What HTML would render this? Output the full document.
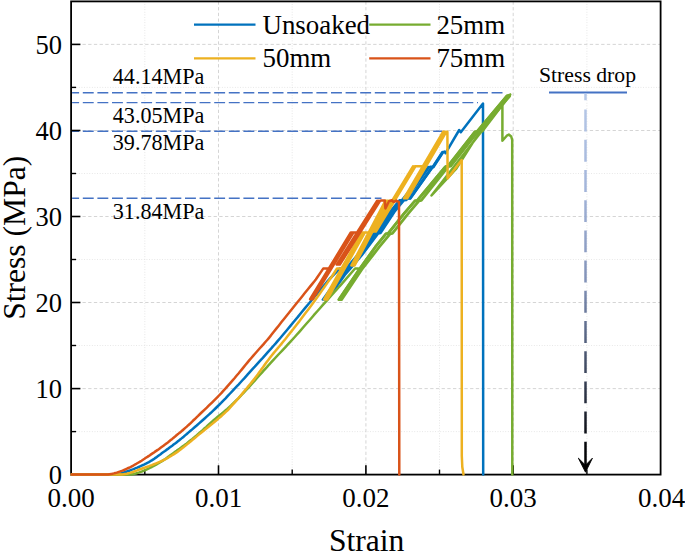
<!DOCTYPE html>
<html><head><meta charset="utf-8"><title>Stress-Strain</title>
<style>html,body{margin:0;padding:0;background:#fff}svg{display:block}</style></head>
<body><svg width="685" height="552" viewBox="0 0 685 552">
<rect x="0" y="0" width="685" height="552" fill="#fff"/>
<line x1="71.1" x2="660.6" y1="431.6" y2="431.6" stroke="#dedede" stroke-width="0.8" stroke-dasharray="0.9 1.7"/>
<line x1="71.1" x2="660.6" y1="345.5" y2="345.5" stroke="#dedede" stroke-width="0.8" stroke-dasharray="0.9 1.7"/>
<line x1="71.1" x2="660.6" y1="259.5" y2="259.5" stroke="#dedede" stroke-width="0.8" stroke-dasharray="0.9 1.7"/>
<line x1="71.1" x2="660.6" y1="173.5" y2="173.5" stroke="#dedede" stroke-width="0.8" stroke-dasharray="0.9 1.7"/>
<line x1="71.1" x2="660.6" y1="87.4" y2="87.4" stroke="#dedede" stroke-width="0.8" stroke-dasharray="0.9 1.7"/>
<line x1="144.8" x2="144.8" y1="1.4" y2="474.6" stroke="#dedede" stroke-width="0.8" stroke-dasharray="0.9 1.7"/>
<line x1="292.2" x2="292.2" y1="1.4" y2="474.6" stroke="#dedede" stroke-width="0.8" stroke-dasharray="0.9 1.7"/>
<line x1="439.5" x2="439.5" y1="1.4" y2="474.6" stroke="#dedede" stroke-width="0.8" stroke-dasharray="0.9 1.7"/>
<line x1="586.9" x2="586.9" y1="1.4" y2="474.6" stroke="#dedede" stroke-width="0.8" stroke-dasharray="0.9 1.7"/>
<line x1="71.1" x2="660.6" y1="388.6" y2="388.6" stroke="#cacaca" stroke-width="0.8" stroke-dasharray="3.3 2.4"/>
<line x1="71.1" x2="660.6" y1="302.5" y2="302.5" stroke="#cacaca" stroke-width="0.8" stroke-dasharray="3.3 2.4"/>
<line x1="71.1" x2="660.6" y1="216.5" y2="216.5" stroke="#cacaca" stroke-width="0.8" stroke-dasharray="3.3 2.4"/>
<line x1="71.1" x2="660.6" y1="130.5" y2="130.5" stroke="#cacaca" stroke-width="0.8" stroke-dasharray="3.3 2.4"/>
<line x1="71.1" x2="660.6" y1="44.4" y2="44.4" stroke="#cacaca" stroke-width="0.8" stroke-dasharray="3.3 2.4"/>
<line x1="218.5" x2="218.5" y1="1.4" y2="474.6" stroke="#cacaca" stroke-width="0.8" stroke-dasharray="3.3 2.4"/>
<line x1="365.9" x2="365.9" y1="1.4" y2="474.6" stroke="#cacaca" stroke-width="0.8" stroke-dasharray="3.3 2.4"/>
<line x1="513.2" x2="513.2" y1="1.4" y2="474.6" stroke="#cacaca" stroke-width="0.8" stroke-dasharray="3.3 2.4"/>
<line x1="72.1" x2="504.5" y1="92.8" y2="92.8" stroke="#4472C4" stroke-width="1.45" stroke-dasharray="10.9 3.7" stroke-dashoffset="3.9"/>
<line x1="72.1" x2="478.0" y1="102.6" y2="102.6" stroke="#4472C4" stroke-width="1.45" stroke-dasharray="10.9 3.7" stroke-dashoffset="3.9"/>
<line x1="72.1" x2="442.0" y1="131.3" y2="131.3" stroke="#4472C4" stroke-width="1.45" stroke-dasharray="10.9 3.7" stroke-dashoffset="3.9"/>
<line x1="72.1" x2="381.5" y1="198.3" y2="198.3" stroke="#4472C4" stroke-width="1.45" stroke-dasharray="10.9 3.7" stroke-dashoffset="3.9"/>
<rect x="71.1" y="1.4" width="589.5" height="473.2" fill="none" stroke="#000" stroke-width="1.8"/>
<line x1="71.1" x2="80.4" y1="474.6" y2="474.6" stroke="#000" stroke-width="1.6"/>
<line x1="71.1" x2="80.4" y1="388.6" y2="388.6" stroke="#000" stroke-width="1.6"/>
<line x1="71.1" x2="80.4" y1="302.5" y2="302.5" stroke="#000" stroke-width="1.6"/>
<line x1="71.1" x2="80.4" y1="216.5" y2="216.5" stroke="#000" stroke-width="1.6"/>
<line x1="71.1" x2="80.4" y1="130.5" y2="130.5" stroke="#000" stroke-width="1.6"/>
<line x1="71.1" x2="80.4" y1="44.4" y2="44.4" stroke="#000" stroke-width="1.6"/>
<line x1="71.1" x2="76.1" y1="431.6" y2="431.6" stroke="#000" stroke-width="1.4"/>
<line x1="71.1" x2="76.1" y1="345.5" y2="345.5" stroke="#000" stroke-width="1.4"/>
<line x1="71.1" x2="76.1" y1="259.5" y2="259.5" stroke="#000" stroke-width="1.4"/>
<line x1="71.1" x2="76.1" y1="173.5" y2="173.5" stroke="#000" stroke-width="1.4"/>
<line x1="71.1" x2="76.1" y1="87.4" y2="87.4" stroke="#000" stroke-width="1.4"/>
<line x1="218.5" x2="218.5" y1="474.6" y2="465.3" stroke="#000" stroke-width="1.6"/>
<line x1="365.9" x2="365.9" y1="474.6" y2="465.3" stroke="#000" stroke-width="1.6"/>
<line x1="513.2" x2="513.2" y1="474.6" y2="465.3" stroke="#000" stroke-width="1.6"/>
<line x1="144.8" x2="144.8" y1="474.6" y2="469.6" stroke="#000" stroke-width="1.4"/>
<line x1="292.2" x2="292.2" y1="474.6" y2="469.6" stroke="#000" stroke-width="1.4"/>
<line x1="439.5" x2="439.5" y1="474.6" y2="469.6" stroke="#000" stroke-width="1.4"/>
<line x1="586.9" x2="586.9" y1="474.6" y2="469.6" stroke="#000" stroke-width="1.4"/>
<path d="M428.5 167.2 L406.4 198.3 L410.2 198.3 L432.3 167.2" fill="none" stroke="#0072BD" stroke-width="2.90" stroke-linejoin="round" stroke-linecap="round" />
<path d="M430.4 167.2 L433.2 166.8 L442.6 152.4" fill="none" stroke="#0072BD" stroke-width="3.20" stroke-linejoin="round" stroke-linecap="round" />
<path d="M71.6 474.5 L72.9 474.5 L75.6 474.5 L78.9 474.5 L82.4 474.5 L86.0 474.5 L89.4 474.5 L92.5 474.5 L95.0 474.5 L96.9 474.5 L98.4 474.5 L99.7 474.5 L100.8 474.5 L101.7 474.5 L102.7 474.5 L103.8 474.5 L105.0 474.5 L106.4 474.5 L107.8 474.5 L109.3 474.5 L110.7 474.5 L112.2 474.5 L113.7 474.5 L115.2 474.5 L116.7 474.5 L118.2 474.2 L119.6 473.8 L121.1 473.4 L122.6 473.0 L124.0 472.5 L125.5 472.0 L126.9 471.5 L128.4 471.0 L129.9 470.5 L131.3 469.9 L132.8 469.4 L134.2 468.8 L135.7 468.2 L137.2 467.6 L138.6 467.0 L140.1 466.3 L141.6 465.6 L143.0 465.0 L144.5 464.3 L145.9 463.6 L147.4 462.8 L148.9 462.1 L150.3 461.2 L151.8 460.4 L153.3 459.4 L154.7 458.4 L156.2 457.4 L157.7 456.3 L159.1 455.3 L160.6 454.2 L162.0 453.1 L163.5 452.0 L165.0 451.0 L166.4 449.9 L167.9 448.9 L169.3 447.8 L170.7 446.8 L172.2 445.7 L173.6 444.6 L175.1 443.5 L176.5 442.4 L177.9 441.3 L179.3 440.2 L180.7 439.1 L182.1 437.9 L183.6 436.7 L185.1 435.4 L186.8 434.0 L188.6 432.4 L190.5 430.8 L192.5 429.1 L194.6 427.3 L196.7 425.5 L198.8 423.6 L200.9 421.8 L202.9 420.0 L204.9 418.2 L206.9 416.4 L208.9 414.6 L210.9 412.8 L212.9 410.9 L214.9 409.0 L216.9 407.0 L219.0 405.0 L221.1 402.9 L223.3 400.6 L225.6 398.3 L227.8 395.9 L230.1 393.5 L232.3 391.2 L234.4 388.9 L236.5 386.7 L238.5 384.6 L240.4 382.5 L242.2 380.5 L244.0 378.6 L245.8 376.6 L247.5 374.7 L249.3 372.7 L251.1 370.7 L252.9 368.7 L254.8 366.7 L256.6 364.7 L258.4 362.7 L260.2 360.7 L262.1 358.7 L263.9 356.6 L265.7 354.6 L267.4 352.7 L269.0 350.9 L270.6 349.2 L272.1 347.4 L273.8 345.5 L275.7 343.4 L277.8 340.9 L280.3 338.0 L283.2 334.5 L286.6 330.5 L290.2 326.1 L294.0 321.5 L297.9 316.9 L301.6 312.3 L305.2 307.9 L308.5 304.0 L311.6 300.3 L314.7 296.5 L317.8 292.9 L320.8 289.4 L323.5 286.1 L325.9 283.3 L327.9 280.9 L329.5 279.0 L339.8 268.5 L345.0 268.5 L346.0 268.5 L340.3 275.0 L322.8 299.6 L327.3 299.6 L344.8 275.0 L350.5 268.5 L361.8 255.2 L378.1 233.5 L380.5 233.0 L394.5 211.7 L404.0 200.3 L406.5 200.0 L404.2 200.0 L401.7 200.3 L392.2 211.7 L378.2 233.0 L375.8 233.5 L359.5 255.2 L348.2 268.5 L342.5 275.0 L325.0 299.6 L322.8 299.6 L340.3 275.0 L346.0 268.5 L357.3 255.2 L373.6 233.5 L376.0 233.0 L390.0 211.7 L399.5 200.3 L402.0 200.0 L428.5 167.2 L428.5 167.2 L406.4 198.3 L410.2 198.3 L432.3 167.2 L433.2 166.8 L442.6 152.4 L444.5 151.6 L445.6 153.2 L459.2 130.0 L460.8 132.3 L483.0 103.5 L483.2 474.5" fill="none" stroke="#0072BD" stroke-width="2.50" stroke-linejoin="round" stroke-linecap="round" />
<path d="M506.9 96.0 L477.2 131.4 L474.9 131.8 L447.9 166.2 L445.6 166.6 L444.0 168.3 L417.3 200.4 L415.0 200.8 L404.2 213.3 L388.2 233.4 L385.9 233.8 L375.5 246.7 L359.2 269.5 L338.9 299.6 L341.5 299.6 L361.8 269.5 L379.5 246.7 L390.1 233.8 L392.4 233.4 L408.4 213.3 L419.0 200.8 L421.3 200.4 L446.8 168.3 L448.4 166.6 L450.7 166.2 L477.7 131.8 L480.0 131.4 L509.7 96.0 L509.5 95.4 L506.9 96.0" fill="none" stroke="#77AC30" stroke-width="2.80" stroke-linejoin="round" stroke-linecap="round" />
<path d="M71.6 474.5 L73.3 474.5 L76.5 474.5 L80.4 474.5 L84.6 474.5 L88.9 474.5 L93.1 474.5 L96.8 474.5 L100.0 474.5 L102.6 474.5 L104.8 474.5 L106.7 474.5 L108.5 474.5 L110.1 474.5 L111.7 474.5 L113.3 474.5 L115.0 474.5 L116.8 474.5 L118.5 474.5 L120.2 474.5 L121.9 474.5 L123.6 474.5 L125.2 474.5 L126.8 474.5 L128.4 474.5 L129.9 474.5 L131.4 474.5 L132.9 474.2 L134.4 473.8 L135.8 473.5 L137.2 473.0 L138.6 472.6 L140.1 472.1 L141.6 471.6 L143.0 471.0 L144.5 470.4 L145.9 469.8 L147.4 469.1 L148.9 468.4 L150.3 467.7 L151.8 467.0 L153.3 466.2 L154.7 465.4 L156.2 464.6 L157.7 463.7 L159.1 462.9 L160.6 462.0 L162.0 461.1 L163.5 460.1 L165.0 459.2 L166.4 458.2 L167.9 457.1 L169.3 456.1 L170.7 455.0 L172.2 453.9 L173.6 452.9 L175.1 451.8 L176.6 450.8 L178.0 449.7 L179.5 448.7 L180.9 447.7 L182.4 446.6 L183.9 445.6 L185.3 444.5 L186.8 443.4 L188.2 442.2 L189.6 441.1 L191.0 440.0 L192.4 438.9 L193.8 437.7 L195.3 436.5 L196.9 435.2 L198.5 433.7 L200.2 432.2 L202.1 430.6 L204.0 428.8 L206.0 427.1 L208.0 425.3 L210.0 423.5 L212.0 421.7 L213.9 420.0 L215.8 418.4 L217.7 416.8 L219.7 415.2 L221.6 413.7 L223.5 412.1 L225.4 410.5 L227.3 408.9 L229.2 407.2 L231.1 405.5 L232.9 403.7 L234.7 401.9 L236.5 400.1 L238.4 398.3 L240.2 396.4 L242.0 394.5 L243.8 392.6 L245.6 390.7 L247.5 388.7 L249.3 386.7 L251.1 384.6 L252.9 382.6 L254.8 380.6 L256.6 378.5 L258.4 376.5 L260.2 374.5 L261.9 372.6 L263.6 370.7 L265.3 368.8 L267.1 366.9 L268.9 364.8 L270.9 362.7 L273.0 360.4 L275.2 358.0 L277.5 355.5 L279.9 353.0 L282.4 350.3 L285.0 347.6 L287.7 344.7 L290.5 341.7 L293.4 338.5 L296.5 335.0 L299.8 331.3 L303.3 327.3 L306.8 323.3 L310.4 319.2 L313.8 315.2 L317.1 311.5 L320.2 308.0 L323.1 304.7 L326.1 301.3 L329.0 298.1 L331.8 295.0 L334.3 292.1 L336.6 289.6 L338.5 287.5 L340.0 285.8 L355.1 268.5 L358.2 268.5 L359.2 269.5 L338.9 299.6 L338.9 299.6 L359.2 269.5 L375.5 246.7 L385.9 233.8 L388.2 233.4 L404.2 213.3 L415.0 200.8 L417.3 200.4 L444.0 168.3 L445.6 166.6 L447.9 166.2 L474.9 131.8 L477.2 131.4 L506.9 96.0 L510.2 94.6 L431.5 195.4 L456.5 168.3 L480.0 131.3 L482.2 131.5 L510.2 94.6 L502.4 104.5 L502.4 140.8 L507.2 135.3 L508.8 134.6 L511.2 136.5 L512.2 140.0 L512.3 474.5" fill="none" stroke="#77AC30" stroke-width="2.50" stroke-linejoin="round" stroke-linecap="round" />
<path d="M71.6 474.5 L73.3 474.5 L76.5 474.5 L80.4 474.5 L84.6 474.5 L88.9 474.5 L93.1 474.5 L96.8 474.5 L100.0 474.5 L102.6 474.5 L104.8 474.5 L106.7 474.5 L108.5 474.5 L110.1 474.5 L111.7 474.5 L113.3 474.5 L115.0 474.5 L116.8 474.5 L118.5 474.5 L120.2 474.5 L121.9 474.5 L123.6 474.3 L125.2 474.0 L126.8 473.7 L128.4 473.3 L129.9 472.9 L131.4 472.4 L132.9 472.0 L134.4 471.4 L135.8 470.9 L137.2 470.4 L138.6 469.8 L140.1 469.3 L141.6 468.8 L143.0 468.3 L144.5 467.8 L145.9 467.2 L147.4 466.7 L148.9 466.2 L150.3 465.6 L151.8 465.1 L153.3 464.5 L154.7 463.9 L156.2 463.3 L157.7 462.7 L159.1 462.1 L160.6 461.5 L162.0 460.8 L163.5 460.1 L165.0 459.4 L166.4 458.6 L167.9 457.8 L169.3 457.0 L170.7 456.2 L172.2 455.3 L173.6 454.4 L175.1 453.4 L176.6 452.4 L178.0 451.4 L179.5 450.3 L180.9 449.2 L182.4 448.0 L183.9 446.9 L185.3 445.7 L186.8 444.6 L188.2 443.4 L189.6 442.3 L190.9 441.3 L192.2 440.1 L193.6 439.0 L195.1 437.8 L196.7 436.4 L198.5 434.9 L200.5 433.3 L202.7 431.5 L205.1 429.6 L207.6 427.6 L210.1 425.6 L212.5 423.6 L214.7 421.7 L216.8 420.0 L218.6 418.4 L220.3 417.0 L221.8 415.7 L223.2 414.4 L224.6 413.1 L226.1 411.7 L227.6 410.3 L229.2 408.6 L230.9 406.7 L232.7 404.7 L234.6 402.6 L236.5 400.4 L238.4 398.2 L240.3 396.0 L242.1 393.9 L243.8 391.8 L245.4 389.8 L247.0 388.0 L248.5 386.1 L250.0 384.3 L251.5 382.4 L253.0 380.6 L254.6 378.6 L256.2 376.5 L257.9 374.3 L259.5 372.0 L261.2 369.6 L263.0 367.2 L264.7 364.8 L266.5 362.3 L268.3 359.9 L270.1 357.5 L271.9 355.2 L273.6 353.1 L275.4 351.0 L277.2 348.9 L279.0 346.7 L281.0 344.4 L283.1 341.8 L285.4 339.0 L287.9 335.8 L290.6 332.4 L293.5 328.8 L296.4 325.0 L299.5 321.1 L302.5 317.1 L305.5 313.1 L308.5 309.2 L311.6 305.0 L314.9 300.5 L318.3 295.7 L321.6 291.0 L324.8 286.5 L327.7 282.4 L330.1 279.0 L331.9 276.5 L337.0 268.5 L339.9 268.5 L341.5 268.5 L324.1 299.4 L325.7 299.4 L363.3 232.5 L363.3 232.5 L325.7 299.4 L327.3 299.4 L364.9 232.5 L361.7 232.5 L324.1 299.4 L327.3 299.4 L364.9 232.5 L366.5 232.5 L368.8 232.5 L385.5 200.7 L351.4 265.5 L353.0 265.5 L387.1 200.7 L387.1 200.7 L353.0 265.5 L354.6 265.5 L388.7 200.7 L390.5 200.7 L392.2 200.7 L413.0 166.3 L373.5 231.5 L374.7 231.5 L414.2 166.3 L414.2 166.3 L374.7 231.5 L375.9 231.5 L415.4 166.3 L417.7 166.3 L422.8 166.3 L443.2 131.7 L404.0 198.3 L405.6 198.3 L444.8 131.7 L444.8 131.7 L405.6 198.3 L407.2 198.3 L446.4 131.7 L447.4 131.7 L447.6 178.5 L461.7 160.0 L461.8 456.0 L462.3 467.0 L463.5 474.5" fill="none" stroke="#EDB120" stroke-width="2.50" stroke-linejoin="round" stroke-linecap="round" />
<path d="M71.6 474.5 L72.7 474.5 L75.0 474.5 L77.7 474.5 L80.7 474.5 L83.8 474.5 L86.8 474.5 L89.6 474.5 L92.0 474.5 L94.0 474.5 L95.8 474.5 L97.5 474.4 L99.1 474.4 L100.6 474.5 L102.0 474.5 L103.5 474.5 L105.0 474.5 L106.5 474.5 L108.0 474.5 L109.5 474.3 L110.9 474.1 L112.4 473.7 L113.8 473.4 L115.2 473.0 L116.7 472.6 L118.2 472.1 L119.6 471.6 L121.1 471.1 L122.6 470.6 L124.0 470.0 L125.5 469.3 L126.9 468.7 L128.4 468.0 L129.9 467.3 L131.3 466.6 L132.8 465.8 L134.2 465.0 L135.7 464.2 L137.2 463.3 L138.6 462.5 L140.1 461.6 L141.6 460.7 L143.0 459.8 L144.5 458.8 L145.9 457.8 L147.4 456.9 L148.9 455.9 L150.3 454.9 L151.8 453.9 L153.3 452.9 L154.7 451.9 L156.2 450.9 L157.7 449.9 L159.1 448.9 L160.6 447.8 L162.0 446.8 L163.5 445.7 L165.0 444.6 L166.4 443.5 L167.9 442.4 L169.3 441.2 L170.7 440.1 L172.2 438.9 L173.6 437.7 L175.1 436.5 L176.5 435.3 L178.0 434.1 L179.4 432.9 L180.9 431.7 L182.3 430.5 L183.8 429.2 L185.3 427.9 L186.8 426.6 L188.3 425.2 L189.9 423.8 L191.4 422.3 L192.9 420.8 L194.6 419.3 L196.3 417.6 L198.1 415.9 L200.0 414.0 L202.1 412.0 L204.4 409.8 L206.8 407.6 L209.2 405.2 L211.7 402.8 L214.2 400.4 L216.7 397.9 L219.0 395.5 L221.3 393.1 L223.5 390.6 L225.8 388.1 L228.0 385.6 L230.2 383.1 L232.4 380.6 L234.5 378.2 L236.5 375.8 L238.5 373.5 L240.3 371.3 L242.1 369.1 L243.9 366.9 L245.6 364.8 L247.4 362.6 L249.2 360.4 L251.1 358.2 L253.1 355.9 L255.2 353.5 L257.4 351.0 L259.6 348.5 L261.8 346.1 L263.8 343.9 L265.6 341.8 L267.2 340.0 L268.4 338.6 L269.2 337.7 L269.7 337.0 L270.2 336.4 L270.7 335.7 L271.4 334.8 L272.4 333.5 L274.0 331.5 L276.1 328.9 L278.7 325.7 L281.5 322.1 L284.6 318.2 L287.8 314.2 L291.0 310.2 L294.0 306.5 L296.8 303.0 L299.5 299.7 L302.3 296.2 L305.0 292.8 L307.7 289.5 L310.2 286.4 L312.5 283.6 L314.4 281.3 L315.8 279.5 L323.2 268.6 L327.2 268.6 L328.8 268.6 L310.1 299.2 L311.4 299.2 L352.1 232.5 L352.1 232.5 L311.4 299.2 L312.7 299.2 L353.4 232.5 L350.8 232.5 L310.1 299.2 L312.7 299.2 L353.4 232.5 L356.2 232.5 L357.1 232.5 L377.2 200.7 L336.8 264.6 L338.3 264.6 L378.7 200.7 L378.7 200.7 L338.3 264.6 L339.8 264.6 L380.2 200.7 L381.2 200.6 L384.8 200.6 L385.4 208.5 L389.1 201.3 L392.0 200.3 L393.5 202.0 L396.4 200.6 L399.0 202.0 L399.3 474.5" fill="none" stroke="#D95319" stroke-width="2.50" stroke-linejoin="round" stroke-linecap="round" />
<defs><linearGradient id="sd" gradientUnits="userSpaceOnUse" x1="0" y1="93" x2="0" y2="474"><stop offset="0" stop-color="#b7c9e8"/><stop offset="0.25" stop-color="#a3b5da"/><stop offset="0.5" stop-color="#8191b7"/><stop offset="0.62" stop-color="#5d6b8b"/><stop offset="0.8" stop-color="#2a3142"/><stop offset="0.92" stop-color="#05060a"/><stop offset="1" stop-color="#000"/></linearGradient></defs>
<line x1="549" x2="627" y1="92.5" y2="92.5" stroke="#4472C4" stroke-width="2"/>
<line x1="585.5" x2="585.5" y1="93.5" y2="466" stroke="url(#sd)" stroke-width="2.5" stroke-dasharray="6.7 9.4 21.9 8.3 21.9 8.3 21.9 8.3 21.9 8.3 21.9 8.3 21.9 8.3 21.9 8.3 21.9 8.3 21.9 8.3 21.9 8.3 21.9 8.3 60 0"/>
<path d="M578.4 458.2 L585.5 472.2 L592.4 458.2 L585.5 465.2 Z" fill="#000" stroke="#000" stroke-width="0.9" stroke-linejoin="miter"/>
<text x="62" y="483.8" text-anchor="end" font-size="26.5" font-family="Liberation Serif, Times New Roman, serif">0</text>
<text x="62" y="397.8" text-anchor="end" font-size="26.5" font-family="Liberation Serif, Times New Roman, serif">10</text>
<text x="62" y="311.7" text-anchor="end" font-size="26.5" font-family="Liberation Serif, Times New Roman, serif">20</text>
<text x="62" y="225.7" text-anchor="end" font-size="26.5" font-family="Liberation Serif, Times New Roman, serif">30</text>
<text x="62" y="139.7" text-anchor="end" font-size="26.5" font-family="Liberation Serif, Times New Roman, serif">40</text>
<text x="62" y="53.6" text-anchor="end" font-size="26.5" font-family="Liberation Serif, Times New Roman, serif">50</text>
<text x="71.1" y="507" text-anchor="middle" font-size="27" font-family="Liberation Serif, Times New Roman, serif">0.00</text>
<text x="218.5" y="507" text-anchor="middle" font-size="27" font-family="Liberation Serif, Times New Roman, serif">0.01</text>
<text x="365.9" y="507" text-anchor="middle" font-size="27" font-family="Liberation Serif, Times New Roman, serif">0.02</text>
<text x="513.2" y="507" text-anchor="middle" font-size="27" font-family="Liberation Serif, Times New Roman, serif">0.03</text>
<text x="661.5" y="507" text-anchor="middle" font-size="27" font-family="Liberation Serif, Times New Roman, serif">0.04</text>
<text x="366.7" y="551" text-anchor="middle" font-size="31.6" font-family="Liberation Serif, Times New Roman, serif">Strain</text>
<text transform="translate(25,237.8) rotate(-90)" text-anchor="middle" font-size="31.6" font-family="Liberation Serif, Times New Roman, serif">Stress (MPa)</text>
<line x1="194.0" x2="255.5" y1="24.7" y2="24.7" stroke="#0072BD" stroke-width="2.3"/>
<text x="262.5" y="33.8" font-size="26.9" font-family="Liberation Serif, Times New Roman, serif">Unsoaked</text>
<line x1="369.2" x2="430.5" y1="24.7" y2="24.7" stroke="#77AC30" stroke-width="2.3"/>
<text x="436.4" y="33.8" font-size="26.9" font-family="Liberation Serif, Times New Roman, serif">25mm</text>
<line x1="194.0" x2="255.5" y1="58.3" y2="58.3" stroke="#EDB120" stroke-width="2.3"/>
<text x="262.5" y="67.3" font-size="26.9" font-family="Liberation Serif, Times New Roman, serif">50mm</text>
<line x1="369.2" x2="430.5" y1="58.3" y2="58.3" stroke="#D95319" stroke-width="2.3"/>
<text x="436.4" y="67.3" font-size="26.9" font-family="Liberation Serif, Times New Roman, serif">75mm</text>
<text x="112.8" y="84.2" font-size="22.1" font-family="Liberation Serif, Times New Roman, serif">44.14MPa</text>
<text x="112.8" y="122.7" font-size="22.1" font-family="Liberation Serif, Times New Roman, serif">43.05MPa</text>
<text x="112.8" y="150.0" font-size="22.1" font-family="Liberation Serif, Times New Roman, serif">39.78MPa</text>
<text x="112.8" y="218.6" font-size="22.1" font-family="Liberation Serif, Times New Roman, serif">31.84MPa</text>
<text x="539" y="82.3" font-size="21.7" font-family="Liberation Serif, Times New Roman, serif">Stress drop</text>
</svg></body></html>
